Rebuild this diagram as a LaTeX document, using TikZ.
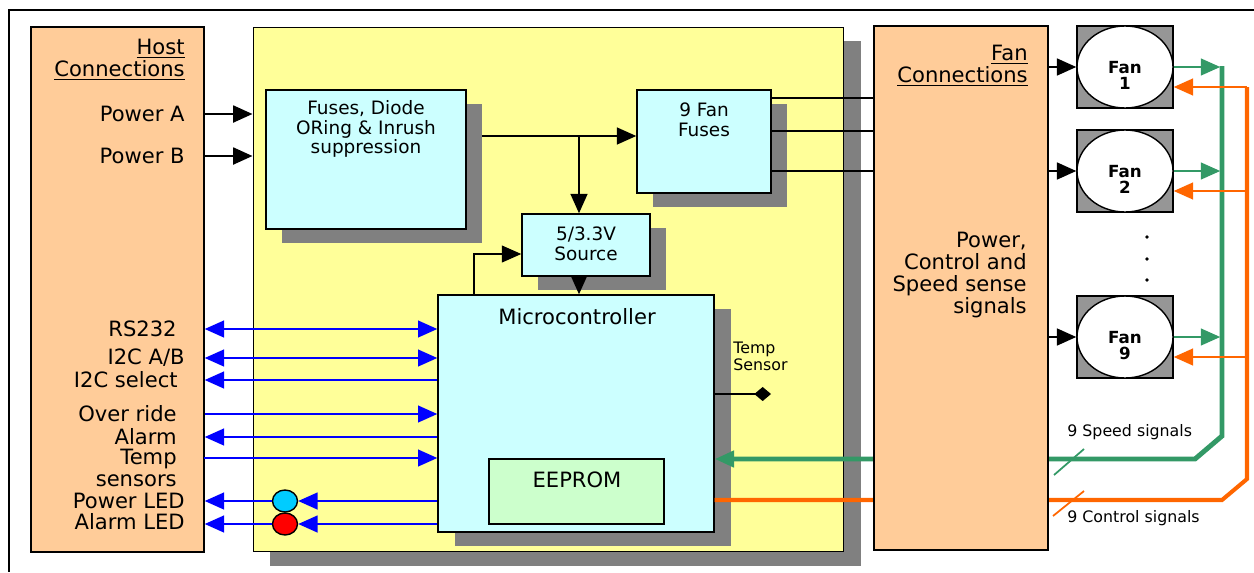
\documentclass[tikz,border=0pt]{standalone}
\usepackage{fontspec}
\setmainfont{DejaVu Sans}
\usetikzlibrary{arrows.meta, positioning, shapes.geometric, shadows}

\definecolor{peach}{RGB}{255,204,153}
\definecolor{boardyellow}{RGB}{255,255,153}
\definecolor{blockcyan}{RGB}{204,255,255}
\definecolor{eepromgreen}{RGB}{204,255,204}
\definecolor{shadowgray}{RGB}{128,128,128}
\definecolor{fangray}{RGB}{150,150,150}
\definecolor{speedgreen}{RGB}{51,153,102}
\definecolor{ctrlorange}{RGB}{255,102,0}
\definecolor{ledblue}{RGB}{0,204,255}

\tikzset{
  panel/.style={draw, line width=0.8pt, fill=peach, inner sep=0pt},
  shadowed/.style={drop shadow={shadow xshift=#1, shadow yshift=-0.28cm, fill=shadowgray, opacity=1}},
  block/.style={draw, line width=0.8pt, fill=blockcyan, inner sep=0pt, shadowed=0.32cm},
  boxtext/.style={font=\fontsize{10.5}{11.3}\selectfont, align=center, inner sep=0pt},
  bigtext/.style={font=\fontsize{12}{12.5}\selectfont, align=center, inner sep=0pt},
  hostlabel/.style={font=\fontsize{12}{12.5}\selectfont, anchor=east, align=right, inner sep=0pt},
  smalltext/.style={font=\fontsize{9}{9.7}\selectfont, anchor=west, align=left, inner sep=0pt},
  pwr/.style={line width=1.6pt, ->},
  sig/.style={blue, line width=1.2pt},
  led/.style={ellipse, draw, line width=0.8pt, minimum width=0.5cm, minimum height=0.44cm, inner sep=0pt},
  fanbox/.style={draw, line width=0.8pt, fill=fangray, minimum width=1.92cm, minimum height=1.64cm, inner sep=0pt},
  fanwheel/.style={ellipse, draw, line width=0.8pt, fill=white, minimum width=1.92cm, minimum height=1.64cm, inner sep=0pt},
  fantext/.style={font=\fontsize{9.5}{9.2}\selectfont\bfseries, align=center, inner sep=0pt},
  speedbus/.style={speedgreen, line width=2.8pt},
  ctrlbus/.style={ctrlorange, line width=2.3pt},
}

\begin{document}
\begin{tikzpicture}[x=0.02cm, y=-0.02cm, >={Triangle[length=11pt,width=9.5pt]}]
\useasboundingbox (0,0) rectangle (1254,572);

% Outer frame
\draw[line width=1pt] (1254,10) -- (9,10) -- (9,572);

% Fan board
\node[draw, line width=0.6pt, fill=boardyellow, minimum width=11.82cm, minimum height=10.5cm, inner sep=0pt, shadowed=0.34cm] (board) at (548.5,289.5) {};

% Power blocks
\node[block, minimum width=4cm, minimum height=2.78cm] (fuses) at (366,159.5) {};
\node[boxtext] (fusestxt) at (366,129) {Fuses, Diode\\ORing \& Inrush\\suppression};
\node[block, minimum width=2.68cm, minimum height=2.06cm] (fanfuses) at (704,141.5) {};
\node[boxtext] (fanfusestxt) at (704,120) {9 Fan\\Fuses};
\node[block, minimum width=2.56cm, minimum height=1.24cm] (source) at (586,245) {};
\node[boxtext] (sourcetxt) at (586,244) {5/3.3V\\Source};

% Microcontroller
\node[draw, line width=0.8pt, fill=blockcyan, minimum width=5.52cm, minimum height=4.74cm, inner sep=0pt, shadowed=0.34cm] (micro) at (576,413.5) {};
\node[bigtext] (microtxt) at (577,317) {Microcontroller};
\node[draw, line width=0.8pt, fill=eepromgreen, minimum width=3.5cm, minimum height=1.3cm, inner sep=0pt] (eeprom) at (576.5,491.5) {};
\node[bigtext] (eepromtxt) at (577,480) {EEPROM};

% Power distribution
\coordinate (fuseout) at (482,136);
\coordinate (split) at (579,136);
\draw[line width=1.2pt, ->] (fuseout) -- (fanfuses.west |- split);
\draw[line width=1.2pt, ->] (split) -- (split |- source.north);
\draw[line width=1.2pt, ->] (split |- source.south) -- (split |- micro.north);
\draw[line width=0.9pt, ->] ([xshift=-2.04cm]micro.north) |- ([yshift=-0.18cm]source.west);

% Temp sensor
\node[smalltext] (tempsensor) at (733,356) {Temp\\Sensor};
\coordinate (sensorpt) at (771,394);
\draw[line width=1pt, -{Diamond[length=9.5pt,width=8pt]}] (micro.east |- sensorpt) -- (sensorpt);

% Host connections
\node[panel, minimum width=3.46cm, minimum height=10.5cm] (host) at (117.5,289.5) {};
\node[hostlabel] (hosttitle) at (185,60) {\underline{Host}\\\underline{Connections}};
\node[hostlabel] (pwra) at (185,114) {Power A};
\node[hostlabel] (pwrb) at (185,156) {Power B};
\draw[pwr] (host.east |- pwra) -- (board.west |- pwra);
\draw[pwr] (host.east |- pwrb) -- (board.west |- pwrb);

\node[hostlabel] (rs232) at (177,329) {RS232};
\draw[sig, <->] (host.east |- rs232) -- (micro.west |- rs232);
\node[hostlabel] (i2cab) at (185,358) {I2C A/B};
\draw[sig, <->] (host.east |- i2cab) -- (micro.west |- i2cab);
\node[hostlabel] (i2csel) at (178,380) {I2C select};
\draw[sig, <-] (host.east |- i2csel) -- (micro.west |- i2csel);
\node[hostlabel] (override) at (177,414) {Over ride};
\draw[sig, ->] (host.east |- override) -- (micro.west |- override);
\node[hostlabel] (alarm) at (177,437) {Alarm};
\draw[sig, <-] (host.east |- alarm) -- (micro.west |- alarm);
\node[hostlabel] (tempsens) at (177,468) {Temp\\sensors};
\coordinate (tempin) at (204,458);
\draw[sig, ->] (tempin) -- (micro.west |- tempin);

% LEDs
\node[hostlabel] (pwrled) at (185,501) {Power LED};
\node[hostlabel] (almled) at (185,522) {Alarm LED};
\node[led, fill=ledblue] (bled) at (285,501) {};
\node[led, fill=red] (rled) at (285,524) {};
\draw[sig, <-] (host.east |- bled) -- (bled.west);
\draw[sig, <-] (bled.east) -- (micro.west |- bled);
\draw[sig, <-] (host.east |- rled) -- (rled.west);
\draw[sig, <-] (rled.east) -- (micro.west |- rled);

% Speed and control buses
\coordinate (sbus) at (1222,66);
\coordinate (sbend) at (1222,436);
\coordinate (sturn) at (1195,459);
\coordinate (cbus) at (1247,87);
\coordinate (cbend) at (1247,479);
\coordinate (cturn) at (1222,500);
\draw[speedbus, -{Triangle[length=11pt,width=9pt]}] (sbus) -- (sbend) -- (sturn) -- (micro.east |- sturn);
\draw[ctrlbus] (cbus) -- (cbend) -- (cturn) -- (micro.east |- cturn);

% Fan connections
\node[panel, minimum width=3.48cm, minimum height=10.48cm] (fanconn) at (961,288) {};
\node[hostlabel] (fantitle) at (1028,65.5) {\underline{Fan}\\\underline{Connections}};
\node[hostlabel] (fansignals) at (1027,275) {Power,\\Control and\\Speed sense\\signals};
\foreach \yy in {98,131,171}
  \draw[line width=0.6pt] (fanfuses.east |- 0,\yy) -- (fanconn.west |- 0,\yy);

% Fans
\foreach \n/\yc in {1/67, 2/171, 9/337} {
  \node[fanbox] (fan\n) at (1125,\yc) {};
  \node[fanwheel] (wheel\n) at (fan\n) {};
  \node[fantext] (fantxt\n) at ([yshift=-0.17cm]fan\n.center) {Fan\\\n};
  \draw[line width=1.4pt, ->] (fanconn.east |- fan\n) -- (fan\n.west);
  \draw[speedgreen, line width=1.2pt, ->, shorten >=1pt] (wheel\n.east) -- (wheel\n.east -| sbus);
  \coordinate (ctl\n) at ([yshift=-0.4cm]fan\n.east);
  \draw[ctrlorange, line width=1.2pt, ->] (ctl\n -| cbus) -- (ctl\n);
}
\foreach \yy in {237,259,280}
  \fill (1147,\yy) circle (1.1pt);

% Bus labels
\node[smalltext] (speedlbl) at (1067,432) {9 Speed signals};
\node[smalltext] (ctrllbl) at (1067,518) {9 Control signals};
\draw[speedgreen, line width=1pt] (1054,475) -- (1084,449);
\draw[ctrlorange, line width=1pt] (1053,516) -- (1084,491);

\end{tikzpicture}
\end{document}
